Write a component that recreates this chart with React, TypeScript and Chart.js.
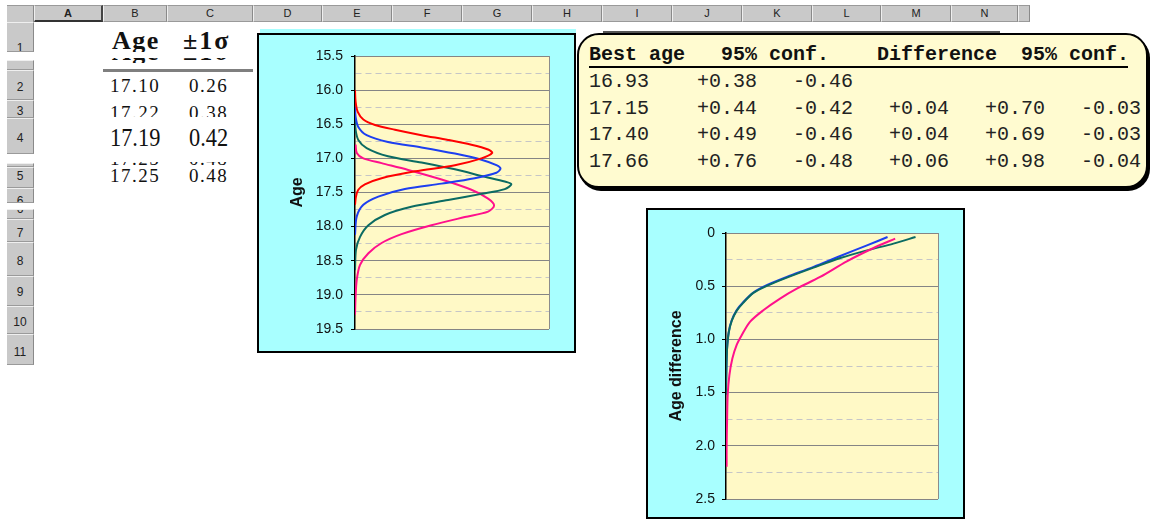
import React, { useEffect, useRef } from 'react';
import { Chart, registerables } from 'chart.js';

Chart.register(...registerables);

// ---------------- data ----------------
// Spreadsheet cells
const sheetAges = ['17.10', '17.22', '17.19', '17.25'];
const sheetSigmas = ['0.26', '0.38', '0.42', '0.48'];

// Summary table
const tableHeader = ['Best age', '95% conf.', 'Difference', '95% conf.'];
const tblBest = ['16.93', '17.15', '17.40', '17.66'];
const tblPlus = ['+0.38', '+0.44', '+0.49', '+0.76'];
const tblMinus = ['-0.46', '-0.42', '-0.46', '-0.48'];
const tblDiff = ['', '+0.04', '+0.04', '+0.06'];
const tblDiffPlus = ['', '+0.70', '+0.69', '+0.98'];
const tblDiffMinus = ['', '-0.03', '-0.03', '-0.04'];

// Chart 1: age probability curves (age on y, relative density on x)
const redAge = [16.0, 16.17, 16.32, 16.43, 16.51, 16.58, 16.66, 16.73, 16.8, 16.87, 16.92, 17.0, 17.1, 17.19, 17.29, 17.38, 17.46, 17.56, 17.68];
const redDensity = [0, 0.003, 0.014, 0.043, 0.103, 0.206, 0.343, 0.48, 0.6, 0.686, 0.707, 0.652, 0.515, 0.309, 0.137, 0.051, 0.017, 0.005, 0];
const blueAge = [16.24, 16.39, 16.54, 16.66, 16.76, 16.84, 16.93, 17.02, 17.1, 17.15, 17.21, 17.29, 17.37, 17.45, 17.56, 17.68, 17.85, 18.12];
const blueDensity = [0, 0.003, 0.017, 0.06, 0.17, 0.343, 0.515, 0.652, 0.729, 0.75, 0.729, 0.617, 0.446, 0.257, 0.12, 0.043, 0.009, 0];
const greenAge = [16.41, 16.58, 16.73, 16.85, 16.97, 17.06, 17.16, 17.27, 17.34, 17.38, 17.45, 17.52, 17.61, 17.71, 17.83, 17.98, 18.15, 18.34, 18.64];
const greenDensity = [0, 0.003, 0.017, 0.06, 0.17, 0.343, 0.515, 0.669, 0.772, 0.806, 0.772, 0.652, 0.48, 0.29, 0.154, 0.069, 0.026, 0.005, 0];
const pinkAge = [16.8, 16.92, 17.0, 17.07, 17.17, 17.31, 17.46, 17.59, 17.69, 17.78, 17.86, 17.98, 18.11, 18.24, 18.39, 18.56, 18.78, 19.03, 19.29];
const pinkDensity = [0.003, 0.009, 0.043, 0.137, 0.274, 0.446, 0.6, 0.686, 0.717, 0.686, 0.566, 0.394, 0.24, 0.137, 0.069, 0.026, 0.009, 0.003, 0];

// Chart 2: age difference curves
const blueDiff = [0.038, 0.116, 0.216, 0.319, 0.413, 0.491, 0.56, 0.648, 0.726, 0.82, 0.929, 1.086, 1.3, 1.49];
const blueDiffDensity = [0.762, 0.665, 0.539, 0.413, 0.287, 0.192, 0.129, 0.082, 0.05, 0.027, 0.013, 0.005, 0.0016, 0];
const greenDiff = [0.038, 0.1, 0.163, 0.235, 0.325, 0.419, 0.497, 0.563, 0.654, 0.732, 0.826, 0.935, 1.09, 1.3, 1.52];
const greenDiffDensity = [0.894, 0.79, 0.665, 0.539, 0.413, 0.287, 0.192, 0.129, 0.082, 0.05, 0.027, 0.013, 0.005, 0.0016, 0];
const pinkDiff = [0.053, 0.141, 0.266, 0.413, 0.523, 0.616, 0.726, 0.835, 0.961, 1.054, 1.18, 1.336, 1.52, 1.774, 1.993, 2.196];
const pinkDiffDensity = [0.798, 0.696, 0.57, 0.444, 0.334, 0.255, 0.176, 0.113, 0.074, 0.05, 0.03, 0.016, 0.008, 0.005, 0.003, 0.003];

const ageAxis = { min: 15.5, max: 19.5, step: 0.25 };
const diffAxis = { min: 0, max: 2.5, step: 0.25 };

// Spreadsheet headers
const colLetters = ['A', 'B', 'C', 'D', 'E', 'F', 'G', 'H', 'I', 'J', 'K', 'L', 'M', 'N', ''];
const colEdges = [34, 103, 167, 253, 322, 392, 462, 532, 602, 672, 742, 812, 881, 951, 1018, 1030];
const rowCells = [
  { label: '1', top: 22, bottom: 52, cy: 47.5 },
  { label: '', top: 60, bottom: 70, cy: 0 },
  { label: '2', top: 70, bottom: 100, cy: 87 },
  { label: '3', top: 100, bottom: 118, cy: 111 },
  { label: '4', top: 118, bottom: 154, cy: 138 },
  { label: '', top: 163, bottom: 167, cy: 0 },
  { label: '5', top: 167, bottom: 188, cy: 176 },
  { label: '6', top: 188, bottom: 203, cy: 201 },
  { label: '6', top: 209, bottom: 219, cy: 209 },
  { label: '7', top: 219, bottom: 242, cy: 233 },
  { label: '8', top: 242, bottom: 276, cy: 261 },
  { label: '9', top: 276, bottom: 306, cy: 292 },
  { label: '10', top: 306, bottom: 334, cy: 322 },
  { label: '11', top: 334, bottom: 365, cy: 352 },
];

// ---------------- helpers ----------------
const SANS = '"Liberation Sans", Arial, sans-serif';
const SERIF = '"Liberation Serif", "Times New Roman", serif';
const MONO = '"Liberation Mono", "Courier New", monospace';
const ASC: Record<string, number> = { [SANS]: 0.8465, [SERIF]: 0.8375, [MONO]: 0.7665 };

const isMajor = (v: number) => Math.abs(v * 2 - Math.round(v * 2)) < 1e-6;

function Txt(props: { x: number; base: number; size: number; fam: string; bold?: boolean; ls?: number; color?: string; style?: any; children: any }) {
  const { x, base, size, fam, bold, ls, color, style, children } = props;
  return (
    <div
      style={{
        position: 'absolute',
        left: x,
        top: base - size * ASC[fam],
        fontSize: size,
        lineHeight: `${size}px`,
        fontFamily: fam,
        fontWeight: bold ? 'bold' : 'normal',
        letterSpacing: ls || 0,
        color: color || '#111',
        whiteSpace: 'pre',
        ...style,
      }}
    >
      {children}
    </div>
  );
}

function Clip(props: { left: number; top: number; width: number; height: number; children: any }) {
  const { left, top, width, height, children } = props;
  return (
    <div style={{ position: 'absolute', left: 0, top: 0, width: 1154, height: 521, clipPath: `inset(${top}px ${1154 - left - width}px ${521 - top - height}px ${left}px)` }}>
      {children}
    </div>
  );
}

const bgPlugin = {
  id: 'plotBg',
  beforeDraw(chart: any) {
    const { ctx, chartArea: a } = chart;
    ctx.save();
    ctx.fillStyle = '#FFF9C6';
    ctx.fillRect(a.left, a.top, a.right - a.left, a.bottom - a.top);
    ctx.restore();
  },
  beforeDatasetsDraw(chart: any) {
    const { ctx, chartArea: a } = chart;
    ctx.save();
    ctx.strokeStyle = '#8c8c8c';
    ctx.lineWidth = 1;
    ctx.beginPath();
    ctx.moveTo(Math.round(a.right) + 0.5, a.top);
    ctx.lineTo(Math.round(a.right) + 0.5, a.bottom);
    ctx.stroke();
    ctx.restore();
  },
};

function series(ys: number[], xs: number[], color: string) {
  return {
    data: ys.map((y, i) => ({ x: xs[i], y })),
    borderColor: color,
    backgroundColor: color,
    borderWidth: 2,
    pointRadius: 0,
    showLine: true,
    fill: false,
    tension: 0.3,
  };
}

function makeConfig(opts: {
  datasets: any[];
  range: { min: number; max: number; step: number };
  title: string;
  padLeft: number;
  axisWidth: number;
  pad: { top: number; right: number; bottom: number };
  label: (v: number) => string;
  tickPad: number;
}): any {
  return {
    type: 'scatter',
    data: { datasets: opts.datasets },
    options: {
      responsive: false,
      maintainAspectRatio: false,
      animation: false,
      events: [],
      layout: { padding: { left: opts.padLeft, top: opts.pad.top, right: opts.pad.right, bottom: opts.pad.bottom } },
      plugins: { legend: { display: false }, tooltip: { enabled: false } },
      scales: {
        x: { type: 'linear', min: 0, max: 1, display: false },
        y: {
          type: 'linear',
          reverse: true,
          min: opts.range.min,
          max: opts.range.max,
          afterFit: (s: any) => {
            s.width = opts.axisWidth;
          },
          ticks: {
            stepSize: opts.range.step,
            autoSkip: false,
            padding: opts.tickPad,
            color: '#111',
            font: { family: SANS, size: 14 },
            callback: (v: any) => (isMajor(Number(v)) ? opts.label(Number(v)) : ''),
          },
          grid: {
            color: (c: any) => (c.tick && isMajor(c.tick.value) ? '#858585' : '#c6c6c6'),
            lineWidth: 1,
            tickLength: 4,
            tickColor: (c: any) => (c.tick && isMajor(c.tick.value) ? '#000' : 'rgba(0,0,0,0)'),
          },
          border: {
            display: true,
            color: '#000',
            width: 1.5,
            dash: (c: any) => (c.tick && !isMajor(c.tick.value) ? [6, 4] : []),
          },
          title: {
            display: true,
            text: opts.title,
            color: '#111',
            font: { family: SANS, size: 16, weight: 'bold' },
            padding: 0,
          },
        },
      },
    },
    plugins: [bgPlugin],
  };
}

function ChartCanvas(props: { left: number; top: number; width: number; height: number; build: () => any }) {
  const ref = useRef<HTMLCanvasElement>(null);
  useEffect(() => {
    const chart = new Chart(ref.current as HTMLCanvasElement, props.build());
    return () => chart.destroy();
  }, []);
  return (
    <canvas
      ref={ref}
      width={props.width}
      height={props.height}
      style={{ position: 'absolute', left: props.left, top: props.top, width: props.width, height: props.height }}
    />
  );
}

const RED = '#FF0000';
const BLUE = '#1D3FF0';
const GREEN = '#0B6B62';
const PINK = '#FF108C';

const buildAgeChart = () =>
  makeConfig({
    datasets: [
      series(redAge, redDensity, RED),
      series(blueAge, blueDensity, BLUE),
      series(greenAge, greenDensity, GREEN),
      series(pinkAge, pinkDensity, PINK),
    ],
    range: ageAxis,
    title: 'Age',
    padLeft: 29,
    axisWidth: 67,
    pad: { top: 21, right: 25, bottom: 22 },
    label: (v) => v.toFixed(1),
    tickPad: 8,
  });

const buildDiffChart = () =>
  makeConfig({
    datasets: [
      series(pinkDiff, pinkDiffDensity, PINK),
      series(greenDiff, greenDiffDensity, GREEN),
      series(blueDiff, blueDiffDensity, BLUE),
    ],
    range: diffAxis,
    title: 'Age difference',
    padLeft: 19,
    axisWidth: 59,
    pad: { top: 23, right: 25, bottom: 18 },
    label: (v) => (v === 0 ? '0' : v.toFixed(1)),
    tickPad: 7,
  });

const HDR_BG = '#C9C9C9';

export default function App() {
  const tableCols = [589, 697, 793, 889, 985, 1081];
  const tableRowsBase = [87.5, 114, 140.5, 167];
  const tableData = [tblBest, tblPlus, tblMinus, tblDiff, tblDiffPlus, tblDiffMinus];
  const headerX = [589, 721, 877, 1021];

  return (
    <div style={{ position: 'absolute', left: 0, top: 0, width: 1154, height: 521, background: '#fff', overflow: 'hidden' }}>
      {/* column header row */}
      <div style={{ position: 'absolute', left: 7, top: 5, width: 27, height: 17, background: HDR_BG, borderTop: '1px solid #9a9a9a', borderRight: '1px solid #8a8a8a', boxSizing: 'border-box' }} />
      {colLetters.map((c, i) => (
        <div
          key={'c' + i}
          style={{
            position: 'absolute',
            left: colEdges[i],
            top: 5,
            width: colEdges[i + 1] - colEdges[i],
            height: 17,
            background: HDR_BG,
            boxSizing: 'border-box',
            borderTop: '1px solid #9a9a9a',
            borderLeft: '1px solid #efefef',
            borderRight: c === 'A' ? '2px solid #444' : '1px solid #8a8a8a',
            borderBottom: c === 'A' ? '2px solid #333' : '1px solid #9a9a9a',
            fontFamily: SANS,
            fontSize: 11,
            fontWeight: c === 'A' ? 'bold' : 'normal',
            color: '#222',
            textAlign: 'center',
            lineHeight: '15px',
          }}
        >
          {c}
        </div>
      ))}

      {/* row headers */}
      {rowCells.map((r, i) => (
        <div
          key={'r' + i}
          style={{
            position: 'absolute',
            left: 7,
            top: r.top,
            width: 27,
            height: r.bottom - r.top,
            background: HDR_BG,
            boxSizing: 'border-box',
            borderTop: '1px solid #efefef',
            borderBottom: '1px solid #9a9a9a',
            borderRight: '1px solid #8a8a8a',
            overflow: 'hidden',
          }}
        >
          {r.label ? (
            <div
              style={{
                position: 'absolute',
                left: 0,
                width: 26,
                top: r.cy - r.top - 1 - 8,
                height: 16,
                lineHeight: '16px',
                textAlign: 'center',
                fontFamily: SANS,
                fontSize: 12,
                color: '#222',
              }}
            >
              {r.label}
            </div>
          ) : null}
        </div>
      ))}

      {/* spreadsheet content */}
      <Clip left={100} top={22} width={155} height={30}>
        <Txt x={112} base={50} size={26} fam={SERIF} bold ls={1.5}>Age</Txt>
        <Txt x={183} base={50} size={26} fam={SERIF} bold ls={2}>±1σ</Txt>
      </Clip>
      <Clip left={100} top={58} width={155} height={5}>
        <Txt x={112} base={61} size={26} fam={SERIF} bold ls={1.5}>Age</Txt>
        <Txt x={183} base={61} size={26} fam={SERIF} bold ls={2}>±1σ</Txt>
      </Clip>
      <div style={{ position: 'absolute', left: 103, top: 69, width: 150, height: 3, background: '#7f7f7f' }} />

      <Txt x={110} base={92} size={19} fam={SERIF} ls={1.5}>{sheetAges[0]}</Txt>
      <Txt x={189} base={92} size={19} fam={SERIF} ls={1.5}>{sheetSigmas[0]}</Txt>
      <Clip left={100} top={100} width={155} height={17}>
        <Txt x={110} base={119} size={19} fam={SERIF} ls={1.5}>{sheetAges[1]}</Txt>
        <Txt x={189} base={119} size={19} fam={SERIF} ls={1.5}>{sheetSigmas[1]}</Txt>
      </Clip>
      <Txt x={110} base={147} size={26} fam={SERIF} style={{ transform: 'scaleX(0.86)', transformOrigin: 'left' }}>{sheetAges[2]}</Txt>
      <Txt x={189} base={147} size={26} fam={SERIF} style={{ transform: 'scaleX(0.86)', transformOrigin: 'left' }}>{sheetSigmas[2]}</Txt>
      <Clip left={100} top={162} width={155} height={3}>
        <Txt x={110} base={165} size={19} fam={SERIF} ls={1.5}>{sheetAges[3]}</Txt>
        <Txt x={189} base={165} size={19} fam={SERIF} ls={1.5}>{sheetSigmas[3]}</Txt>
      </Clip>
      <Txt x={110} base={182} size={19} fam={SERIF} ls={1.5}>{sheetAges[3]}</Txt>
      <Txt x={189} base={182} size={19} fam={SERIF} ls={1.5}>{sheetSigmas[3]}</Txt>

      {/* chart 1 */}
      <div style={{ position: 'absolute', left: 260, top: 29, width: 316, height: 5, background: '#A8FFFF' }} />
      <div style={{ position: 'absolute', left: 257, top: 33, width: 319, height: 320, background: '#A8FFFF', border: '2px solid #000', boxSizing: 'border-box' }} />
      <ChartCanvas left={259} top={35} width={315} height={316} build={buildAgeChart} />

      {/* chart 2 */}
      <div style={{ position: 'absolute', left: 646, top: 208, width: 319, height: 311, background: '#A8FFFF', border: '2px solid #000', boxSizing: 'border-box' }} />
      <ChartCanvas left={648} top={210} width={315} height={307} build={buildDiffChart} />

      {/* summary table */}
      <div style={{ position: 'absolute', left: 603, top: 31, width: 397, height: 2, background: '#555' }} />
      <div
        style={{
          position: 'absolute',
          left: 577,
          top: 33,
          width: 571,
          height: 155,
          background: '#FFFBD0',
          border: '2px solid #000',
          borderRadius: 22,
          boxSizing: 'border-box',
          boxShadow: '2px 3px 0 0 #000',
        }}
      />
      {tableHeader.map((h, i) => (
        <Txt key={'h' + i} x={headerX[i]} base={60} size={20} fam={MONO} bold color="#111">{h}</Txt>
      ))}
      <div style={{ position: 'absolute', left: 589, top: 66, width: 539, height: 2, background: '#000' }} />
      {tableRowsBase.map((b, r) =>
        tableData.map((col, c) =>
          col[r] ? (
            <Txt key={`t${r}-${c}`} x={tableCols[c]} base={b} size={20} fam={MONO} color="#222">{col[r]}</Txt>
          ) : null
        )
      )}
    </div>
  );
}
